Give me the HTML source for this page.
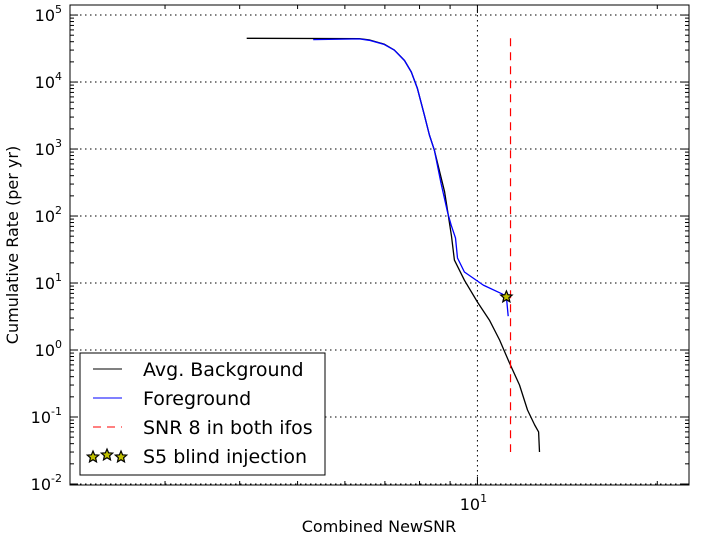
<!DOCTYPE html>
<html><head><meta charset="utf-8"><style>
body{margin:0;background:#fff;}
svg text{font-family:"DejaVu Sans","Liberation Sans",sans-serif;}
</style></head><body>
<svg id="chart" width="702" height="536" xmlns="http://www.w3.org/2000/svg">
<rect width="702" height="536" fill="#fff"/>
<g id="grid"></g><g id="series"></g>
<rect x="70" y="5" width="619" height="480" fill="none" stroke="#000" stroke-width="1"/>
<g id="ticks"></g>
<text x="379" y="532" font-size="16" text-anchor="middle">Combined NewSNR</text>
<text transform="translate(18,245) rotate(-90)" font-size="16" text-anchor="middle">Cumulative Rate (per yr)</text>
<g>
<rect x="80" y="353" width="245" height="122" fill="#fff" stroke="#000"/>
<line x1="93" y1="369" x2="122" y2="369" stroke="#000"/>
<text x="143" y="376" font-size="19">Avg. Background</text>
<line x1="93" y1="398" x2="122" y2="398" stroke="#00f"/>
<text x="143" y="405" font-size="19">Foreground</text>
<line x1="93" y1="427" x2="122" y2="427" stroke="#f00" stroke-dasharray="8,6"/>
<text x="143" y="434" font-size="19">SNR 8 in both ifos</text>
<text x="143" y="463" font-size="19">S5 blind injection</text>
<g id="legstars"></g>
</g>
</svg>
<script>
const bgX=[4.11,6.34,6.59,6.98,7.26,7.55,7.75,7.93,8.15,8.31,8.47,8.81,8.94,9.05,9.15,9.51,10,10.47,10.89,11.3,11.76,12.13,12.47,12.66,12.7];
const bgY=[45000,44500,42500,36900,30000,21000,14100,8130,3200,1620,970,230,100,50,22,11,5.2,2.8,1.41,0.66,0.30,0.127,0.076,0.06,0.030];
const fgX=[5.31,6.34,6.59,6.98,7.26,7.55,7.75,7.93,8.15,8.31,8.47,8.69,8.91,9.04,9.19,9.26,9.51,10.23,10.99,11.18,11.26];
const fgY=[43000,44000,42000,36500,30000,21000,14100,8130,3200,1620,970,310,115,73,47,23.6,14.6,9.3,6.9,6.2,3.2];
const injX=[11.18];const injY=[6.2];
const snrLineX=11.36;const snrLineY=[45000,0.03];
const yTicks=[-2,-1,0,1,2,3,4,5];
const xMinorTicks=[3,4,5,6,7,8,9,20];
const NS="http://www.w3.org/2000/svg";
const X0=70,X1=689,Y0=5,Y1=485;
const lxMin=Math.log10(2.08),lxMax=Math.log10(22.6);
const lyMin=-2.015,lyMax=5.15;
function sx(v){return X0+(Math.log10(v)-lxMin)/(lxMax-lxMin)*(X1-X0);}
function sy(v){return Y1-(Math.log10(v)-lyMin)/(lyMax-lyMin)*(Y1-Y0);}
function mk(t,a,p){const e=document.createElementNS(NS,t);for(const k in a)e.setAttribute(k,a[k]);p.appendChild(e);return e;}
const grid=document.getElementById('grid'),ticks=document.getElementById('ticks'),ser=document.getElementById('series');
yTicks.forEach(p=>{const y=sy(Math.pow(10,p));
 const g=mk('line',{x1:X0,x2:X1,y1:y,y2:y,stroke:'#000','stroke-dasharray':'1.5,3.5'},grid);
 
 mk('line',{x1:X0,x2:X0+8,y1:y,y2:y,stroke:'#000'},ticks);mk('line',{x1:X1,x2:X1-8,y1:y,y2:y,stroke:'#000'},ticks);
 const t=mk('text',{x:X0-8,y:y+6,'font-size':16,'text-anchor':'end'},ticks);
 
 t.innerHTML='10<tspan dy="-8" font-size="11">'+p+'</tspan>';
 if(p<5)for(let m=2;m<10;m++){const ym=sy(m*Math.pow(10,p));if(ym<Y0)continue;
  mk('line',{x1:X0,x2:X0+4,y1:ym,y2:ym,stroke:'#000'},ticks);mk('line',{x1:X1,x2:X1-4,y1:ym,y2:ym,stroke:'#000'},ticks);}
});
{const x=sx(10);const g=mk('line',{x1:x,x2:x,y1:Y0,y2:Y1,stroke:'#000','stroke-dasharray':'1.5,3.5'},grid);
 
 mk('line',{x1:x,x2:x,y1:Y1,y2:Y1-8,stroke:'#000'},ticks);mk('line',{x1:x,x2:x,y1:Y0,y2:Y0+8,stroke:'#000'},ticks);
 const t=mk('text',{x:x-4,y:Y1+25,'font-size':16,'text-anchor':'middle'},ticks);
 
 t.innerHTML='10<tspan dy="-8" font-size="11">1</tspan>';}
xMinorTicks.forEach(v=>{const x=sx(v);mk('line',{x1:x,x2:x,y1:Y1,y2:Y1-4,stroke:'#000'},ticks);mk('line',{x1:x,x2:x,y1:Y0,y2:Y0+4,stroke:'#000'},ticks);});
function pts(xs,ys){return xs.map((v,i)=>sx(v).toFixed(1)+','+sy(ys[i]).toFixed(1)).join(' ');}
const bl=mk('polyline',{points:pts(bgX,bgY),fill:'none',stroke:'#000','stroke-width':1.3,'stroke-linejoin':'round'},ser);

const fl=mk('polyline',{points:pts(fgX,fgY),fill:'none',stroke:'#00f','stroke-width':1.3,'stroke-linejoin':'round'},ser);

const rl=mk('line',{x1:sx(snrLineX),x2:sx(snrLineX),y1:sy(snrLineY[0]),y2:sy(snrLineY[1]),stroke:'#f00','stroke-width':1.2,'stroke-dasharray':'8,6'},ser);

function star(cx,cy,r,p){let s='';for(let i=0;i<10;i++){const a=-Math.PI/2+i*Math.PI/5,rr=i%2?r*0.45:r;s+=(cx+rr*Math.cos(a)).toFixed(1)+','+(cy+rr*Math.sin(a)).toFixed(1)+' ';}
 return mk('polygon',{points:s,fill:'#bfbf00',stroke:'#000','stroke-width':1.2},p);}
injX.forEach((v,i)=>{const s=star(sx(v),sy(injY[i]),6,ser);});
const ls=document.getElementById('legstars');[93,107,121].forEach((x,i)=>{const s=star(x,i==1?455:457,6,ls);});
</script>
</body></html>
